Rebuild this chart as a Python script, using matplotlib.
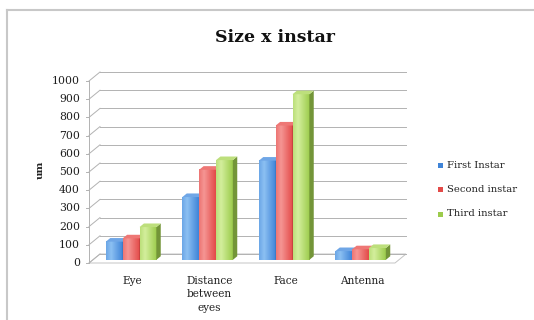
import matplotlib.pyplot as plt
import numpy as np
from matplotlib.patches import Polygon

categories = ['Eye', 'Distance\nbetween\neyes', 'Face', 'Antenna']
series = ['First Instar', 'Second instar', 'Third instar']
first_instar = [100, 345, 545, 48]
second_instar = [118, 495, 738, 58]
third_instar = [180, 548, 910, 65]
yticks = list(range(0, 1001, 100))

values = [first_instar, second_instar, third_instar]
# front, light, side, top colours per series
colors = [
    ('#3f84d8', '#8cc0f2', '#3466a8', '#6fa6e6'),
    ('#e34a48', '#f59593', '#ad3837', '#ee7775'),
    ('#9ccb4c', '#d3ee9c', '#739538', '#bddf7c'),
]

W, H = 534, 320
fig = plt.figure(figsize=(W / 100, H / 100), dpi=100)

# outer chart frame (left and top edges)
fig.add_artist(plt.Line2D([7 / W, 7 / W], [0, 1 - 10 / H], color='#c8c8c8', lw=1.5))
fig.add_artist(plt.Line2D([7 / W, 1], [1 - 10 / H, 1 - 10 / H], color='#c8c8c8', lw=1.5))

# front plane of the plot: x 89..395 px, y 263..81 px
x0, x1, ytop, ybot = 89, 395, 81, 263
ax = fig.add_axes([x0 / W, 1 - ybot / H, (x1 - x0) / W, (ybot - ytop) / H])
ax.set_xlim(0, 4)
ax.set_ylim(0, 1000)
ax.set_axis_off()

px_x = 4 / (x1 - x0)
px_y = 1000 / (ybot - ytop)
ddx, ddy = 11 * px_x, 9 * px_y

grid_c = '#b2b2b2'
# back wall grid lines and left-wall diagonals
for v in yticks:
    ax.plot([ddx, 4 + ddx], [v + ddy, v + ddy], color=grid_c, lw=0.7, clip_on=False)
    ax.plot([0, ddx], [v, v + ddy], color=grid_c, lw=0.7, clip_on=False)
    ax.plot([-3 * px_x, 0], [v, v], color=grid_c, lw=0.7, clip_on=False)
ax.plot([0, 0], [0, 1000], color=grid_c, lw=0.7, clip_on=False)

# floor
floor = Polygon([(0, 0), (4, 0), (4 + ddx, ddy), (ddx, ddy)], closed=True,
                facecolor='white', edgecolor='#c4c4c4', lw=0.7, clip_on=False)
ax.add_patch(floor)

for v in yticks:
    ax.text(-9 * px_x, v, str(v), ha='right', va='center', fontsize=7.8,
            family='DejaVu Serif', color='#1e1e1e')

ax.text(-49 * px_x, 510, 'um', rotation=90, ha='center', va='center',
        fontsize=7.5, fontweight='bold', family='DejaVu Serif', color='#222222')

bw = 0.22
fdx, fdy = 0.35 * ddx, 0.35 * ddy   # bars sit partway into the depth
bdx, bdy = 0.4 * ddx, 0.4 * ddy     # bar depth

grad = np.linspace(0, 1, 64)
grad = np.abs(grad - 0.3) / 0.7
for si, vals in enumerate(values):
    front, light, side, top = colors[si]
    cmap = plt.matplotlib.colors.LinearSegmentedColormap.from_list('g', [light, front])
    for ci, v in enumerate(vals):
        xl = ci + 0.5 - 1.5 * bw + si * bw + fdx
        yb = fdy
        ax.imshow(grad[np.newaxis, :], cmap=cmap, aspect='auto',
                  extent=(xl, xl + bw, yb, yb + v), zorder=3, clip_on=False)
        ax.add_patch(Polygon([(xl + bw, yb), (xl + bw + bdx, yb + bdy),
                              (xl + bw + bdx, yb + v + bdy), (xl + bw, yb + v)],
                             closed=True, facecolor=side, edgecolor='none',
                             zorder=3, clip_on=False))
        ax.add_patch(Polygon([(xl, yb + v), (xl + bw, yb + v),
                              (xl + bw + bdx, yb + v + bdy), (xl + bdx, yb + v + bdy)],
                             closed=True, facecolor=top, edgecolor='none',
                             zorder=3, clip_on=False))

ax.set_xlim(0, 4)
ax.set_ylim(0, 1000)

for ci, name in enumerate(categories):
    ax.text(ci + 0.5 + 0.5 * ddx, -70, name, ha='center', va='top', fontsize=7.6,
            family='DejaVu Serif', color='#222222', linespacing=1.45)

fig.text(275 / W, 1 - 38 / H, 'Size x instar', ha='center', va='center',
         fontsize=12.5, fontweight='bold', family='DejaVu Serif', color='#111111')

# legend
for si, name in enumerate(series):
    yy = 1 - (165 + si * 24.5) / H
    fig.patches.append(plt.Rectangle((438 / W, yy - 2.5 / H), 5 / W, 5 / H,
                                     transform=fig.transFigure, facecolor=colors[si][0],
                                     edgecolor='none'))
    fig.text(447 / W, yy, name, ha='left', va='center', fontsize=7.2,
             family='DejaVu Serif', color='#222222')

fig.savefig('out.png', dpi=100)
